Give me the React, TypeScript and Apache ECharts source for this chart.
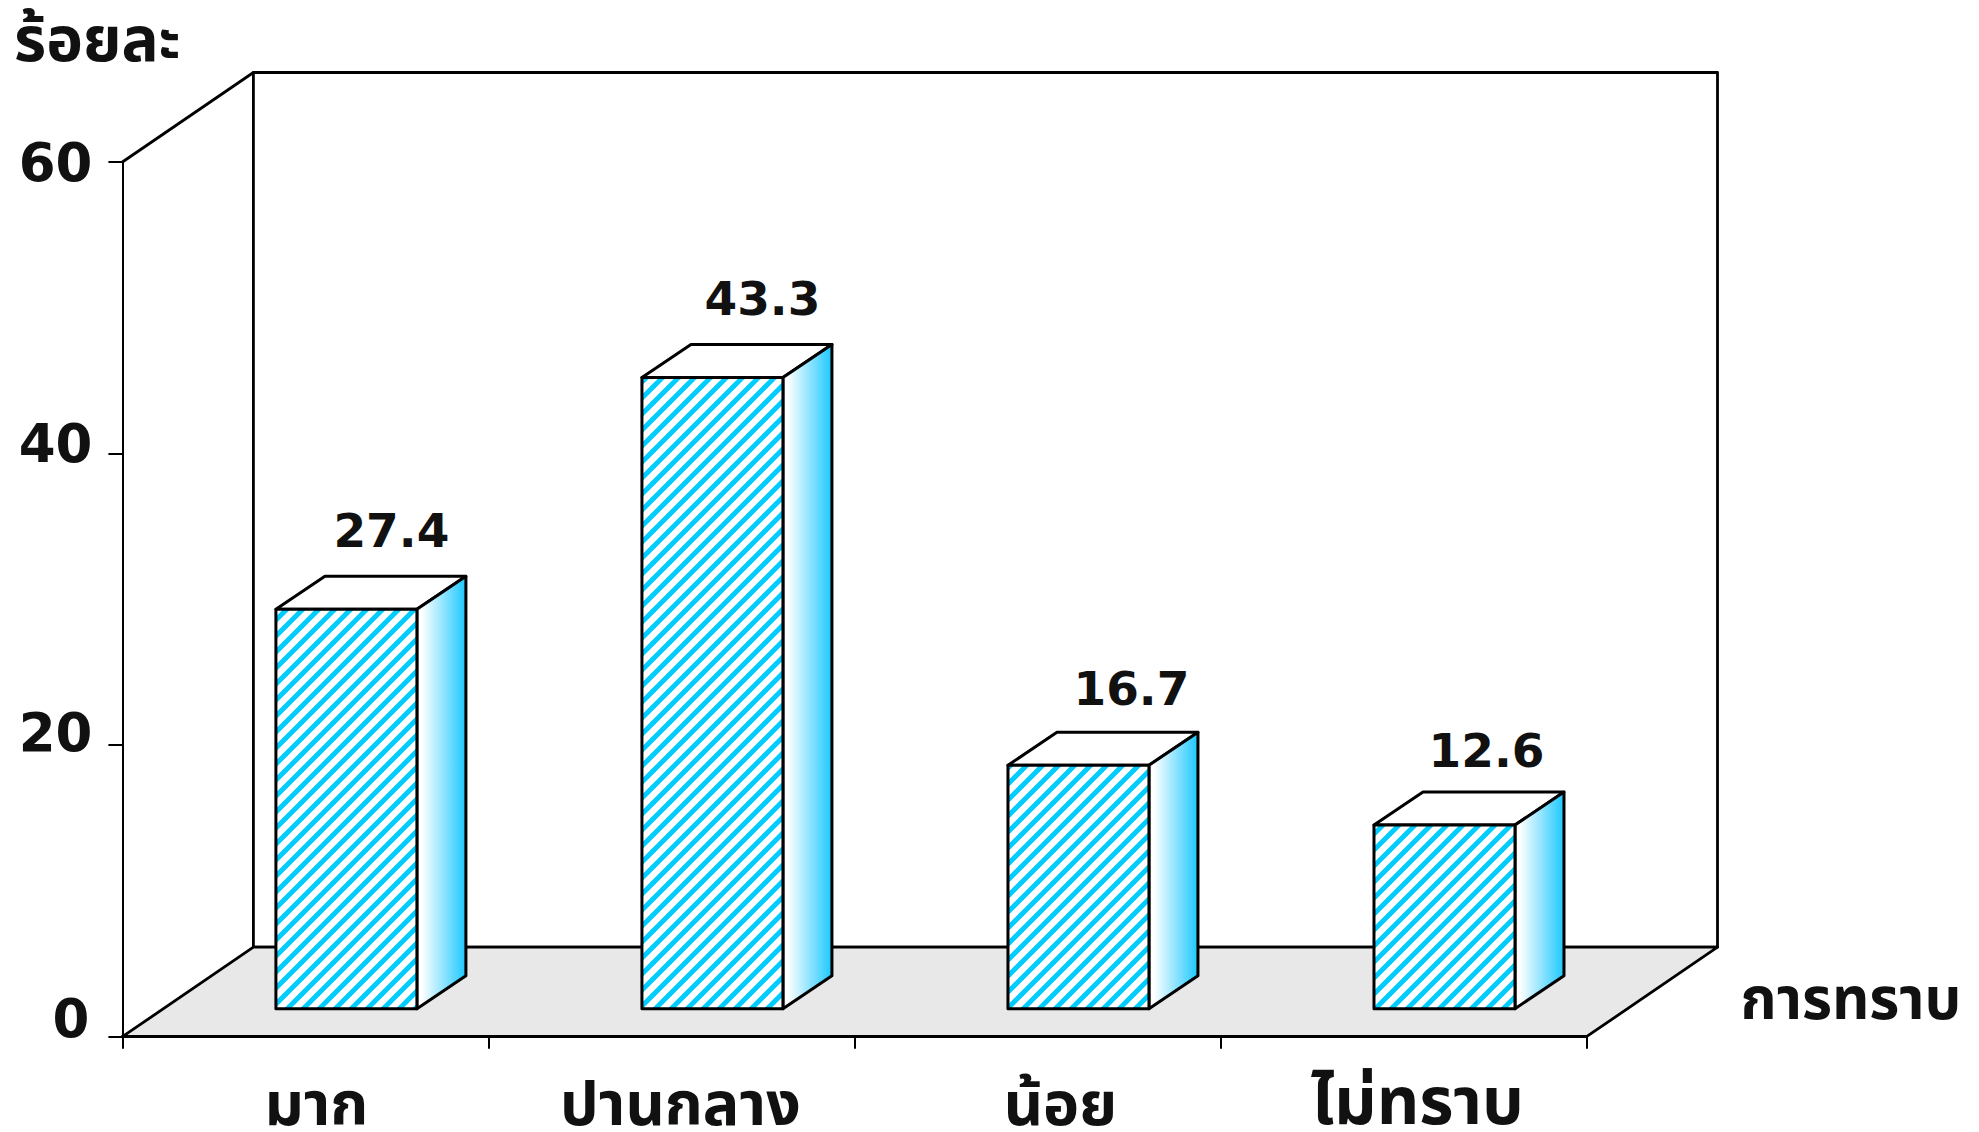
import React, { useEffect, useRef } from "react";
import * as echarts from "echarts";

const categories = ["มาก", "ปานกลาง", "น้อย", "ไม่ทราบ"];
const values = [27.4, 43.3, 16.7, 12.6];
const xTitle = "การทราบ";
const yTitle = "ร้อยละ";
const yTicks = { min: 0, max: 60, interval: 20 };

const INK = "#000";
const TEXT = "#111";
const CYAN = "#00CCFF";
const FLOOR = "#E8E8E8";
const NUM_FONT = "DejaVu Sans";
const THAI_FONT = "'Noto Sans', 'Noto Sans Thai', Roboto, sans-serif";

// depth of the room, and of a bar
const ROOM_DX = 131;
const ROOM_DY = 89.5;
const BAR_W = 141;
const BAR_SHIFT_X = 41;
const BAR_SHIFT_Y = 28;
const BAR_DX = 49;
const BAR_DY = 33;
const LABEL_NUDGE_X = [-2, 3, 6, -5];
const LABEL_NUDGE_Y = [0, 0, 2, 4];

function hatchTile() {
  const p = 16;
  const c = document.createElement("canvas");
  c.width = p;
  c.height = p;
  const g = c.getContext("2d")!;
  g.fillStyle = "#fff";
  g.fillRect(0, 0, p, p);
  g.strokeStyle = CYAN;
  g.lineWidth = 5;
  for (const o of [-p, 0, p]) {
    g.beginPath();
    g.moveTo(o - 2, p + 2);
    g.lineTo(o + p + 2, -2);
    g.stroke();
  }
  return c;
}

export default function App() {
  const ref = useRef<HTMLDivElement>(null);
  useEffect(() => {
    const chart = echarts.init(ref.current!, undefined, { renderer: "svg" });
    const tile = hatchTile();

    const renderRoom = (params: any) => {
      const { x, y, width: w, height: h } = params.coordSys;
      const line = { stroke: INK, lineWidth: 2.8, lineJoin: "round" };
      return {
        type: "group",
        children: [
          {
            type: "polygon",
            shape: { points: [[x + ROOM_DX, y - ROOM_DY], [x + w + ROOM_DX, y - ROOM_DY], [x + w + ROOM_DX, y + h - ROOM_DY], [x + ROOM_DX, y + h - ROOM_DY]] },
            style: { fill: "#fff", ...line },
          },
          {
            type: "polygon",
            shape: { points: [[x, y + h], [x + w, y + h], [x + w + ROOM_DX, y + h - ROOM_DY], [x + ROOM_DX, y + h - ROOM_DY]] },
            style: { fill: FLOOR, ...line },
          },
          {
            type: "polyline",
            shape: { points: [[x, y], [x + ROOM_DX, y - ROOM_DY]] },
            style: { fill: "none", ...line },
          },
        ],
      };
    };

    const renderBar = (_params: any, api: any) => {
      const i = api.value(0);
      const v = api.value(1);
      const [cx] = api.coord([i, 0]);
      const [, y0] = api.coord([i, 0]);
      const [, yv] = api.coord([i, v]);
      const l = cx + BAR_SHIFT_X - BAR_W / 2;
      const r = l + BAR_W;
      const b = y0 - BAR_SHIFT_Y;
      const t = yv - BAR_SHIFT_Y;
      const line = { stroke: INK, lineWidth: 3, lineJoin: "round" };
      return {
        type: "group",
        children: [
          {
            type: "polygon",
            shape: { points: [[l, t], [r, t], [r + BAR_DX, t - BAR_DY], [l + BAR_DX, t - BAR_DY]] },
            style: { fill: "#fff", ...line },
          },
          {
            type: "polygon",
            shape: { points: [[r, t], [r + BAR_DX, t - BAR_DY], [r + BAR_DX, b - BAR_DY], [r, b]] },
            style: {
              fill: {
                type: "linear", x: 0, y: 0, x2: 1, y2: 0,
                colorStops: [
                  { offset: 0, color: "#fff" },
                  { offset: 0.1, color: "#fff" },
                  { offset: 1, color: "#1CC8FF" },
                ],
              },
              ...line,
            },
          },
          {
            type: "polygon",
            shape: { points: [[l, t], [r, t], [r, b], [l, b]] },
            style: { fill: { image: tile, repeat: "repeat" }, ...line },
          },
          {
            type: "text",
            style: {
              x: cx + BAR_SHIFT_X + 47 + LABEL_NUDGE_X[i],
              y: t - 79 + LABEL_NUDGE_Y[i],
              text: v.toFixed(1),
              align: "center",
              verticalAlign: "middle",
              fill: TEXT,
              font: `bold 47px '${NUM_FONT}'`,
            },
          },
        ],
      };
    };

    const thai = { color: TEXT, fontFamily: THAI_FONT, fontWeight: "bold", fontSize: 61, lineHeight: 62 };
    const num = { color: TEXT, fontFamily: NUM_FONT, fontWeight: "bold", fontSize: 53 };

    chart.setOption({
      animation: false,
      backgroundColor: "#fff",
      grid: { left: 122.4, right: 1979 - 1586.5, top: 162, bottom: 1132 - 1036.7, containLabel: false, outerBoundsMode: "none" },
      xAxis: {
        type: "category",
        data: categories,
        z: 5,
        boundaryGap: true,
        name: xTitle,
        nameLocation: "end",
        nameGap: 154,
        nameTextStyle: {
          ...thai, fontSize: 58,
          align: "left", verticalAlign: "bottom", lineHeight: 80,
        },
        axisLine: { show: true, lineStyle: { color: INK, width: 2.8 } },
        axisTick: { show: true, alignWithLabel: false, length: 12, lineStyle: { color: INK, width: 2 } },
        axisLabel: {
          show: true, ...thai, margin: 34, interval: 0,
          formatter: (v: string, i: number) => `{c${i}|${v}}`,
          rich: {
            c0: { ...thai, padding: [0, 0, 0, 22] },
            c1: { ...thai, padding: [0, 0, 0, 18] },
            c2: { ...thai, padding: [0, 0, 0, 46] },
            c3: { ...thai, fontSize: 66, lineHeight: 62, padding: [0, 0, 8, 28] },
          },
        },
        splitLine: { show: false },
      },
      yAxis: {
        type: "value",
        ...yTicks,
        z: 5,
        name: yTitle,
        nameLocation: "end",
        nameGap: 94,
        nameTextStyle: { ...thai, fontSize: 62, align: "center", padding: [0, 50, 0, 0] },
        axisLine: { show: true, lineStyle: { color: INK, width: 2 } },
        axisTick: { show: true, length: 14, lineStyle: { color: INK, width: 2 } },
        splitLine: { show: false },
        axisLabel: {
          show: true, ...num, margin: 30,
          formatter: (v: number) => `{t${v}|${v}}`,
          rich: {
            t0: { ...num, padding: [0, 3, 37, 0] },
            t20: { ...num, padding: [0, 0, 25, 0] },
            t40: { ...num, padding: [0, 0, 21, 0] },
            t60: { ...num },
          },
        },
      },
      series: [
        { type: "custom", z: 1, silent: true, clip: false, renderItem: renderRoom, data: [[0, 0]], encode: { x: 0, y: 1 } },
        { type: "custom", z: 3, silent: true, clip: false, renderItem: renderBar, data: values.map((v, i) => [i, v]), encode: { x: 0, y: 1 } },
      ],
    });
    return () => chart.dispose();
  }, []);
  return <div ref={ref} style={{ position: "absolute", left: 0, top: 0, width: 1979, height: 1132 }} />;
}
